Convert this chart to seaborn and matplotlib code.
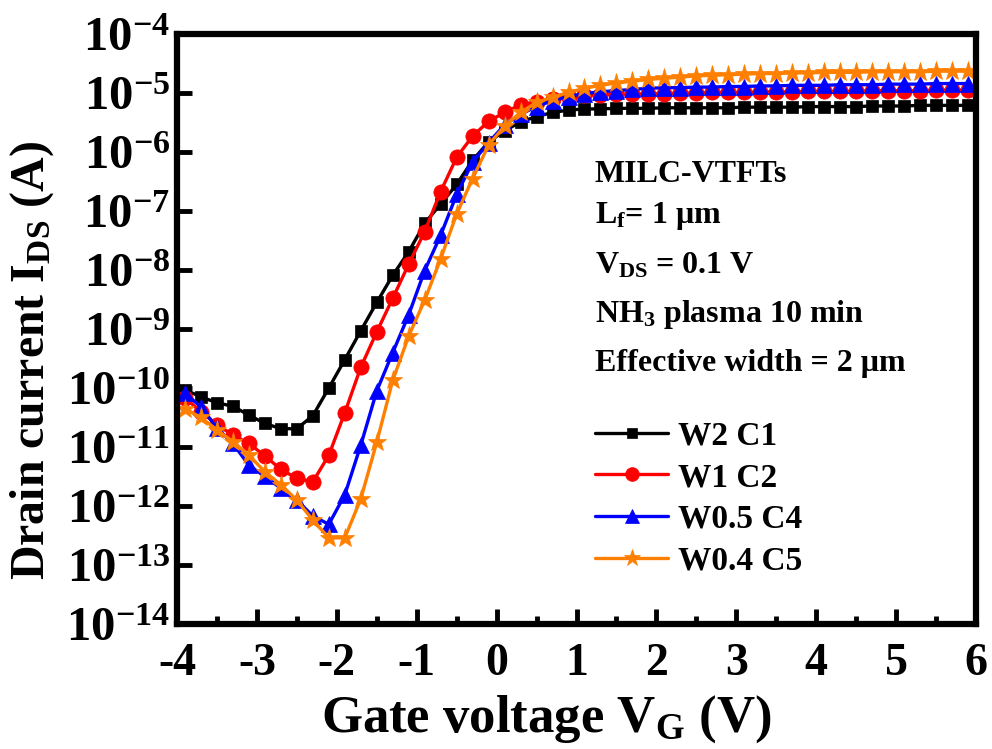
import numpy as np
import pandas as pd
import matplotlib
matplotlib.use("Agg")
import matplotlib.pyplot as plt
import seaborn as sns
from matplotlib.ticker import FixedLocator, MultipleLocator, NullLocator

# ---- data (gate voltage in V, drain current as log10(I_DS / A)) ----
vg = [-3.9, -3.7, -3.5, -3.3, -3.1, -2.9, -2.7, -2.5, -2.3, -2.1,
      -1.9, -1.7, -1.5, -1.3, -1.1, -0.9, -0.7, -0.5, -0.3, -0.1,
      0.1, 0.3, 0.5, 0.7, 0.9, 1.1, 1.3, 1.5, 1.7, 1.9,
      2.1, 2.3, 2.5, 2.7, 2.9, 3.1, 3.3, 3.5, 3.7, 3.9,
      4.1, 4.3, 4.5, 4.7, 4.9, 5.1, 5.3, 5.5, 5.7, 5.9]

log_w2c1 = [-10.03, -10.15, -10.25, -10.31, -10.46, -10.60, -10.69, -10.69, -10.47, -10.00,
            -9.52, -9.03, -8.55, -8.09, -7.69, -7.21, -6.88, -6.55, -6.14, -5.83,
            -5.64, -5.49, -5.40, -5.33, -5.29, -5.27, -5.27, -5.26, -5.26, -5.26,
            -5.25, -5.25, -5.25, -5.25, -5.25, -5.24, -5.24, -5.24, -5.24, -5.23,
            -5.23, -5.23, -5.23, -5.22, -5.22, -5.22, -5.21, -5.21, -5.21, -5.21]

log_w1c2 = [-10.17, -10.40, -10.62, -10.80, -10.94, -11.15, -11.38, -11.53, -11.59, -11.14,
            -10.42, -9.65, -9.05, -8.48, -7.90, -7.35, -6.67, -6.09, -5.73, -5.48,
            -5.33, -5.20, -5.15, -5.11, -5.07, -5.04, -5.03, -5.02, -5.02, -5.01,
            -5.01, -5.00, -5.00, -4.99, -4.99, -4.99, -4.98, -4.98, -4.98, -4.97,
            -4.97, -4.97, -4.97, -4.96, -4.96, -4.96, -4.96, -4.95, -4.95, -4.95]

log_w05c4 = [-10.09, -10.32, -10.68, -10.94, -11.31, -11.50, -11.70, -11.90, -12.17, -12.31,
             -11.81, -10.97, -10.05, -9.40, -8.76, -8.01, -7.41, -6.72, -6.17, -5.84,
             -5.54, -5.36, -5.23, -5.13, -5.06, -5.01, -4.98, -4.96, -4.94, -4.92,
             -4.91, -4.91, -4.90, -4.90, -4.89, -4.89, -4.88, -4.88, -4.87, -4.87,
             -4.87, -4.86, -4.86, -4.86, -4.85, -4.85, -4.85, -4.84, -4.84, -4.84]

log_w04c5 = [-10.35, -10.50, -10.71, -10.91, -11.14, -11.42, -11.64, -11.90, -12.24, -12.54,
             -12.54, -11.88, -10.92, -9.87, -9.12, -8.51, -7.81, -7.05, -6.45, -5.88,
             -5.56, -5.33, -5.16, -5.07, -4.99, -4.92, -4.87, -4.83, -4.80, -4.77,
             -4.75, -4.73, -4.71, -4.70, -4.69, -4.68, -4.67, -4.67, -4.66, -4.66,
             -4.65, -4.65, -4.65, -4.64, -4.64, -4.64, -4.64, -4.63, -4.63, -4.63]

series_names = ["W2 C1", "W1 C2", "W0.5 C4", "W0.4 C5"]
series_logs = [log_w2c1, log_w1c2, log_w05c4, log_w04c5]
colors = ["#000000", "#ff0000", "#0000ff", "#ff7f00"]
markers = ["s", "o", "^", "*"]
msizes = [8.5, 11, 11, 14]

x_ticks = [-4, -3, -2, -1, 0, 1, 2, 3, 4, 5, 6]
y_tick_exps = [-14, -13, -12, -11, -10, -9, -8, -7, -6, -5, -4]

annot_lines = ["MILC-VTFTs",
               "L$_{\\mathbf{f}}$= 1 \u03bcm",
               "V$_{\\mathbf{DS}}$ = 0.1 V",
               "NH$_{\\mathbf{3}}$ plasma 10 min",
               "Effective width = 2 \u03bcm"]

# ---- style ----
sns.set_style("ticks")
plt.rcParams["font.family"] = ["Liberation Serif", "DejaVu Serif"]
plt.rcParams["font.weight"] = "bold"
plt.rcParams["mathtext.fontset"] = "custom"
plt.rcParams["mathtext.rm"] = "Liberation Serif:bold"
plt.rcParams["mathtext.bf"] = "Liberation Serif:bold"
plt.rcParams["mathtext.it"] = "Liberation Serif:bold"
plt.rcParams["axes.unicode_minus"] = False
for k in ["text.color", "axes.labelcolor", "xtick.color", "ytick.color", "axes.edgecolor"]:
    plt.rcParams[k] = "black"

frames = []
for name, lg in zip(series_names, series_logs):
    frames.append(pd.DataFrame({"Vg": vg, "Ids": 10.0 ** np.array(lg), "dev": name}))
df = pd.concat(frames, ignore_index=True)

fig = plt.figure(figsize=(9.92, 7.49), dpi=100)
ax = fig.add_axes([177 / 992, 1 - 624 / 749, (976 - 177) / 992, (624 - 34) / 749])

for name, c, m, ms in zip(series_names, colors, markers, msizes):
    sub = df[df["dev"] == name]
    sns.lineplot(data=sub, x="Vg", y="Ids", ax=ax, color=c, marker=m,
                 markersize=ms, markeredgecolor=c, markerfacecolor=c,
                 markeredgewidth=0.5, linewidth=2.4, label=name, sort=False,
                 errorbar=None)

ax.set_yscale("log")
ax.set_xlim(-4, 6)
ax.set_ylim(1e-14, 1e-4)
ax.xaxis.set_major_locator(FixedLocator(x_ticks))
ax.xaxis.set_minor_locator(MultipleLocator(0.5))
ax.yaxis.set_major_locator(FixedLocator([10.0 ** e for e in y_tick_exps]))
ax.yaxis.set_minor_locator(NullLocator())

for sp in ax.spines.values():
    sp.set_linewidth(4.5)
    sp.set_visible(True)
    sp.set_color("black")

ax.tick_params(axis="both", which="major", direction="in", length=11, width=3.5,
               colors="black")
ax.tick_params(axis="y", which="major", labelsize=35, pad=5)
ax.tick_params(axis="x", which="major", labelsize=33, pad=14)
ax.tick_params(axis="x", which="minor", direction="in", length=6, width=3.5)
ax.tick_params(top=False, right=False, which="both")
for lab in ax.get_xticklabels() + ax.get_yticklabels():
    lab.set_fontweight("bold")

ax.set_xlabel("Gate voltage V$_{\\mathbf{G}}$ (V)", fontsize=38, fontweight="bold")
ax.set_ylabel("Drain current I$_{\\mathbf{DS}}$ (A)", fontsize=34.5, fontweight="bold")
ax.xaxis.set_label_coords(0.462, -0.118)
ax.yaxis.set_label_coords(-0.152, 0.447)

ys = [0.750, 0.680, 0.594, 0.512, 0.428]
for t, yy in zip(annot_lines, ys):
    ax.text(0.523, yy, t, transform=ax.transAxes, fontsize=23, fontweight="bold",
            ha="left", va="baseline")

leg = ax.legend(loc="upper left", bbox_to_anchor=(0.523, 0.345), frameon=False,
                fontsize=24, handlelength=2.2, handletextpad=0.3, labelspacing=0.32,
                borderpad=0, borderaxespad=0, markerscale=0.9)
for t in leg.get_texts():
    t.set_fontweight("bold")

fig.savefig("out.png", dpi=100)
